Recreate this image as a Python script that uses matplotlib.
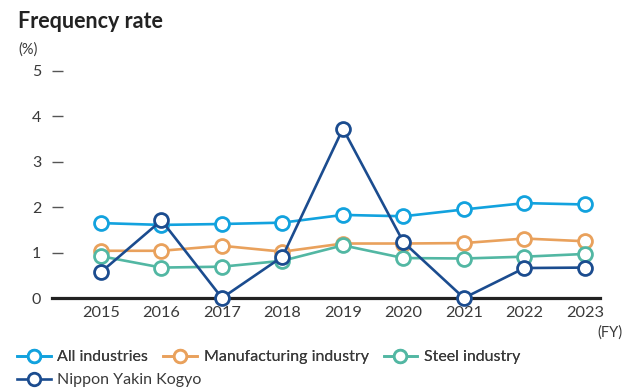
import matplotlib
matplotlib.use("Agg")
import matplotlib.pyplot as plt
from matplotlib.lines import Line2D

years = ["2015", "2016", "2017", "2018", "2019", "2020", "2021", "2022", "2023"]
all_industries = [1.65, 1.61, 1.63, 1.66, 1.83, 1.80, 1.95, 2.09, 2.06]
manufacturing = [1.04, 1.04, 1.15, 1.02, 1.20, 1.20, 1.21, 1.31, 1.25]
steel = [0.92, 0.67, 0.69, 0.82, 1.16, 0.88, 0.87, 0.91, 0.97]
nippon_yakin = [0.57, 1.71, 0.00, 0.91, 3.73, 1.23, 0.00, 0.66, 0.67]
y_ticks = [0, 1, 2, 3, 4, 5]

series = [
    ("All industries", all_industries, "#12a2de"),
    ("Manufacturing industry", manufacturing, "#e9a15c"),
    ("Steel industry", steel, "#52b7a3"),
    ("Nippon Yakin Kogyo", nippon_yakin, "#1b4c8f"),
]

plt.rcParams["font.family"] = ["Lato", "DejaVu Sans"]
text_color = "#3a3a3a"

fig = plt.figure(figsize=(6.23, 3.88), dpi=100)
ax = fig.add_axes([52 / 623, 1 - 298 / 388, 548 / 623, 227 / 388])

x = list(range(len(years)))
for name, vals, col in series:
    ax.plot(x, vals, color=col, lw=1.9, marker="o", ms=10,
            mfc="white", mec=col, mew=2.0, clip_on=False, zorder=3,
            label=name)

ax.set_xlim(-0.81, 8.25)
ax.set_ylim(0, 5)
ax.set_xticks(x)
ax.set_xticklabels(years)
ax.set_yticks(y_ticks)
ax.set_yticklabels([str(v) for v in y_ticks])

for s in ["top", "right", "left"]:
    ax.spines[s].set_visible(False)
ax.spines["bottom"].set_color("#222222")
ax.spines["bottom"].set_linewidth(2.3)
ax.spines["bottom"].set_zorder(2)

ax.tick_params(axis="y", direction="in", length=8, width=1.0, color="#555555",
               labelsize=11.5, labelcolor=text_color, pad=-1)
ax.tick_params(axis="x", length=0, labelsize=11.8, labelcolor=text_color, pad=6)
for lbl in ax.get_yticklabels():
    lbl.set_horizontalalignment("right")
    lbl.set_x(-0.022)

fig.text(18 / 623, 1 - 21 / 388, "Frequency rate", fontsize=15.5, fontweight="bold",
         color="#222222", va="center", ha="left")
fig.text(18 / 623, 1 - 50 / 388, "(%)", fontsize=10.5, color=text_color,
         va="center", ha="left")
fig.text(622 / 623, 1 - 333 / 388, "(FY)", fontsize=10.5, color=text_color,
         va="center", ha="right")

def legend_handle(col):
    return Line2D([], [], color=col, lw=1.9, marker="o", ms=9, mfc="white",
                  mec=col, mew=2.0)

legend_kw = dict(frameon=False, loc="center left", fontsize=11.5,
                 handlelength=2.1, handletextpad=0.42, borderaxespad=0,
                 borderpad=0, labelcolor=text_color)
row1 = fig.legend([legend_handle(c) for _, _, c in series[:3]],
                  [n for n, _, _ in series[:3]], ncol=3, columnspacing=0.95,
                  bbox_to_anchor=(17 / 623, 1 - 357 / 388), **legend_kw)
fig.add_artist(row1)
fig.legend([legend_handle(series[3][2])], [series[3][0]],
           bbox_to_anchor=(17 / 623, 1 - 380 / 388), **legend_kw)

fig.savefig("out.png", dpi=100)
